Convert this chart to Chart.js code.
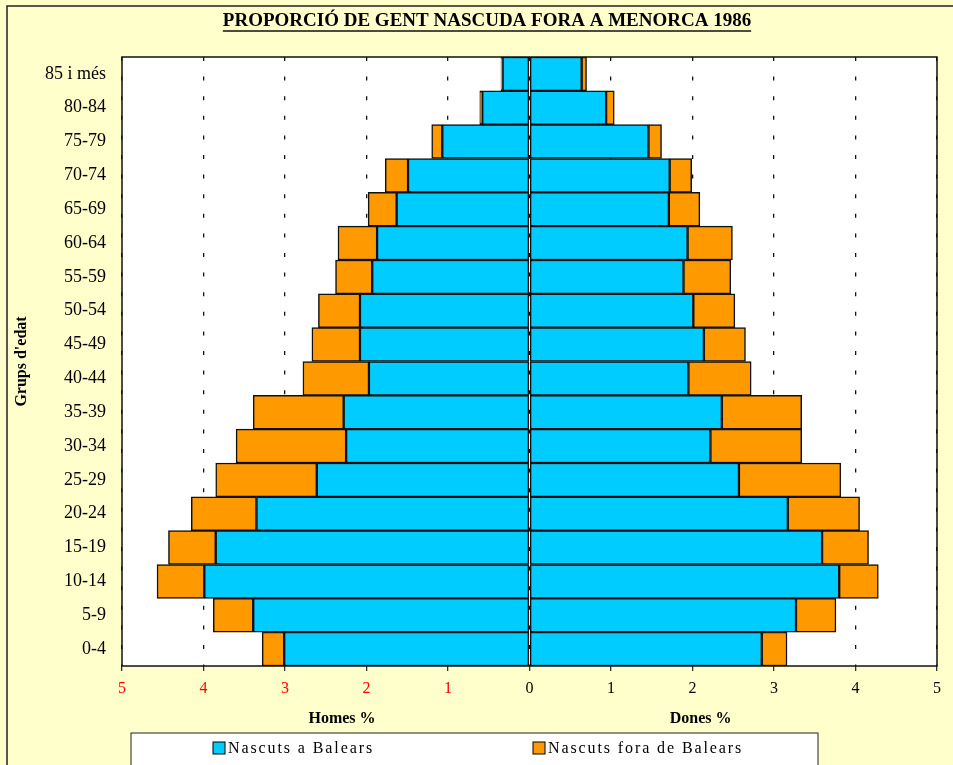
<!DOCTYPE html>
<html>
<head>
<meta charset="utf-8">
<script src="https://cdn.jsdelivr.net/npm/chart.js@4.4.0/dist/chart.umd.min.js"></script>
<style>
    html, body { margin: 0; padding: 0; background: #FFFFCC; }
    #wrap { width: 953px; height: 765px; position: relative; }
</style>
</head>
<body>
<div id="wrap"><canvas id="pyramid"></canvas></div>
<script>
// Age groups, bottom to top
const ageGroups = ['0-4', '5-9', '10-14', '15-19', '20-24', '25-29', '30-34', '35-39', '40-44',
    '45-49', '50-54', '55-59', '60-64', '65-69', '70-74', '75-79', '80-84', '85 i més'];

// Men (%), plotted to the left
const menBalears = [3.01, 3.39, 3.99, 3.85, 3.35, 2.61, 2.25, 2.28, 1.97,
    2.08, 2.08, 1.93, 1.87, 1.63, 1.49, 1.07, 0.58, 0.33];
const menOutside = [0.27, 0.49, 0.58, 0.58, 0.80, 1.24, 1.35, 1.11, 0.81,
    0.59, 0.51, 0.45, 0.48, 0.35, 0.28, 0.13, 0.03, 0.02];

// Women (%), plotted to the right
const womenBalears = [2.85, 3.27, 3.80, 3.59, 3.17, 2.57, 2.22, 2.36, 1.95,
    2.14, 2.01, 1.89, 1.94, 1.71, 1.72, 1.46, 0.94, 0.64];
const womenOutside = [0.31, 0.49, 0.48, 0.57, 0.88, 1.25, 1.12, 0.98, 0.77,
    0.51, 0.51, 0.58, 0.55, 0.38, 0.27, 0.16, 0.10, 0.06];

const seriesNames = ['Nascuts a Balears', 'Nascuts fora de Balears'];
const xMin = -5;
const xMax = 5;

const BLUE = '#00CCFF';
const ORANGE = '#FF9900';
const SERIF = '"Liberation Serif", "Times New Roman", serif';

// draws frame, plot background, title, axis captions and legend box
const decorPlugin = {
    id: 'decor',
    beforeDraw(chart) {
        const ctx = chart.ctx;
        const area = chart.chartArea;
        ctx.save();
        ctx.fillStyle = '#FFFFCC';
        ctx.fillRect(0, 0, chart.width, chart.height);
        ctx.strokeStyle = '#222';
        ctx.lineWidth = 1.5;
        ctx.beginPath();
        ctx.moveTo(7, chart.height);
        ctx.lineTo(7, 6);
        ctx.lineTo(chart.width, 6);
        ctx.stroke();
        ctx.fillStyle = '#FFFFFF';
        ctx.fillRect(area.left, area.top, area.right - area.left, area.bottom - area.top);
        ctx.restore();
    },
    afterDraw(chart) {
        const ctx = chart.ctx;
        const area = chart.chartArea;
        const xs = chart.scales.x;
        ctx.save();

        // plot border
        ctx.strokeStyle = '#111';
        ctx.lineWidth = 1.5;
        ctx.strokeRect(area.left, area.top, area.right - area.left, area.bottom - area.top);

        // title
        const title = 'PROPORCIÓ DE GENT NASCUDA FORA A MENORCA 1986';
        ctx.font = 'bold 19px ' + SERIF;
        ctx.fillStyle = '#000';
        ctx.textAlign = 'center';
        ctx.textBaseline = 'middle';
        const tx = 487;
        ctx.fillText(title, tx, 21);
        const tw = ctx.measureText(title).width;
        ctx.lineWidth = 1.5;
        ctx.beginPath();
        ctx.moveTo(tx - tw / 2, 31);
        ctx.lineTo(tx + tw / 2, 31);
        ctx.stroke();

        // axis captions
        ctx.font = 'bold 16px ' + SERIF;
        ctx.fillText('Homes %', xs.getPixelForValue(-2.3), 719);
        ctx.fillText('Dones %', xs.getPixelForValue(2.1), 719);

        // legend box
        ctx.fillStyle = '#FFFFFF';
        ctx.fillRect(131, 733, 687, 40);
        ctx.strokeStyle = '#222';
        ctx.lineWidth = 1;
        ctx.strokeRect(131, 733, 687, 40);
        const items = [[213, BLUE, seriesNames[0]], [533, ORANGE, seriesNames[1]]];
        ctx.font = '16px ' + SERIF;
        ctx.textAlign = 'left';
        ctx.letterSpacing = '1.9px';
        items.forEach(([x, color, label]) => {
            ctx.fillStyle = color;
            ctx.fillRect(x, 742, 12, 12);
            ctx.strokeStyle = '#000';
            ctx.strokeRect(x, 742, 12, 12);
            ctx.fillStyle = '#000';
            ctx.fillText(label, x + 15, 749);
        });
        ctx.restore();
    }
};

const ctx = document.getElementById('pyramid').getContext('2d');

new Chart(ctx, {
    type: 'bar',
    data: {
        labels: ageGroups,
        datasets: [
            { label: seriesNames[0], data: menBalears.map(v => -v), backgroundColor: BLUE },
            { label: seriesNames[1], data: menOutside.map(v => -v), backgroundColor: ORANGE },
            { label: seriesNames[0], data: womenBalears, backgroundColor: BLUE },
            { label: seriesNames[1], data: womenOutside, backgroundColor: ORANGE }
        ].map(ds => ({
            ...ds,
            borderColor: '#111',
            borderWidth: 1.5,
            borderSkipped: false,
            barPercentage: 1,
            categoryPercentage: 1
        }))
    },
    options: {
        indexAxis: 'y',
        responsive: true,
        maintainAspectRatio: false,
        animation: false,
        layout: { padding: { left: 0, right: 16, top: 57, bottom: 0 } },
        plugins: {
            legend: { display: false },
            title: { display: false },
            tooltip: { enabled: false }
        },
        scales: {
            x: {
                type: 'linear',
                min: xMin,
                max: xMax,
                stacked: true,
                ticks: {
                    stepSize: 1,
                    padding: 8,
                    font: { family: SERIF, size: 16 },
                    color: c => (c.tick && c.tick.value < 0 ? '#FF0000' : '#000'),
                    callback: v => Math.abs(v)
                },
                grid: {
                    color: '#111',
                    lineWidth: 1.3,
                    drawTicks: true,
                    tickLength: 5,
                    tickColor: '#333'
                },
                border: { display: false, dash: [4, 15.6] },
                afterFit(scale) { scale.height = 99; }
            },
            y: {
                stacked: true,
                reverse: true,
                grid: { display: false, drawTicks: false },
                border: { display: false },
                ticks: {
                    padding: 16,
                    font: { family: SERIF, size: 18 },
                    color: '#000'
                },
                title: {
                    display: true,
                    text: "Grups d'edat",
                    font: { family: SERIF, size: 16, weight: 'bold' },
                    color: '#000',
                    padding: { top: 12, bottom: 0 }
                },
                afterFit(scale) { scale.width = 122; }
            }
        }
    },
    plugins: [decorPlugin]
});
</script>
</body>
</html>
